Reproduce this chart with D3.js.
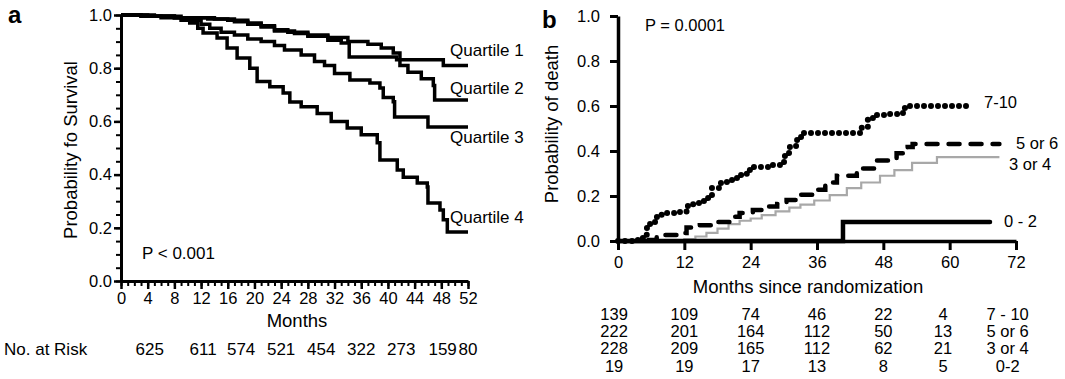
<!DOCTYPE html>
<html>
<head>
<meta charset="utf-8">
<script src="https://cdn.jsdelivr.net/npm/d3@7"></script>
<style>
  body { margin: 0; background: #fff; }
  svg { display: block; font-family: Arial, Helvetica, "Liberation Sans", sans-serif; }
  .axis path, .axis line { stroke: #000; }
  .axis text { font-size: 16.5px; fill: #000; font-family: Arial, Helvetica, "Liberation Sans", sans-serif; }
  .curve { fill: none; }
</style>
</head>
<body>
<svg id="chart" width="1065" height="379"></svg>
<script>
// ---- panel a: Kaplan-Meier survival by quartile, [month, probability] (step after)
const quartile1 = [[0,1],[3,0.996],[8,0.99],[13,0.985],[16,0.98],[19,0.97],[21,0.96],[23,0.945],[25,0.935],[28,0.92],[31,0.905],[33,0.895],[34.2,0.842],[41.3,0.832],[48.3,0.81],[52,0.81]];
const quartile2 = [[0,1],[4,0.995],[9,0.99],[14,0.985],[17,0.975],[19,0.965],[21,0.955],[23,0.94],[26,0.93],[28,0.925],[31,0.915],[34,0.9],[37,0.89],[39,0.876],[40.8,0.857],[41.8,0.81],[43,0.785],[45,0.76],[46.8,0.735],[47,0.68],[52,0.68]];
const quartile3 = [[0,1],[5,0.995],[8,0.99],[10,0.98],[12,0.965],[13.3,0.95],[15,0.935],[17,0.925],[19,0.91],[21,0.9],[23,0.885],[24.5,0.868],[27,0.85],[29,0.825],[30.5,0.81],[32,0.78],[34.3,0.756],[37.3,0.744],[38.8,0.726],[39.3,0.69],[40.8,0.674],[41,0.617],[46,0.579],[52,0.579]];
const quartile4 = [[0,1],[3,0.995],[6,0.99],[9,0.98],[10.3,0.97],[11.5,0.95],[12.3,0.932],[14.4,0.914],[15.9,0.876],[17.4,0.838],[19.3,0.8],[20.4,0.75],[22.3,0.73],[24.3,0.707],[25.3,0.673],[27,0.655],[29.4,0.63],[31.5,0.6],[33.9,0.575],[36,0.55],[38.4,0.52],[38.8,0.455],[41.4,0.417],[42.3,0.39],[44.4,0.368],[45.9,0.353],[46,0.293],[47.8,0.267],[48.3,0.23],[48.9,0.184],[52,0.184]];
const quartileNames = ['Quartile 1', 'Quartile 2', 'Quartile 3', 'Quartile 4'];
const riskMonthsA = [4.3, 12.3, 18, 24, 30, 36, 42, 48.2, 52];
const riskCountsA = [625, 611, 574, 521, 454, 322, 273, 159, 80];

// ---- panel b: cumulative probability of death by score group
const death710 = [[0,0],[3.2,0],[3.6,0.01],[4.5,0.018],[5.2,0.058],[5.8,0.08],[6.7,0.107],[7.9,0.124],[11.2,0.129],[12.4,0.156],[13.6,0.169],[15.2,0.178],[16.3,0.204],[17,0.236],[18.4,0.258],[19.7,0.271],[20.8,0.28],[22,0.293],[23.3,0.316],[24.4,0.329],[28,0.338],[29.3,0.351],[30.2,0.391],[31.1,0.422],[32.4,0.462],[33.5,0.48],[43.2,0.48],[44.1,0.507],[45.2,0.547],[46.8,0.56],[49.2,0.564],[50.6,0.569],[51.9,0.596],[52.4,0.6],[63.7,0.6]];
const death56 = [[5.5,0.005],[7,0.027],[10.6,0.036],[12.4,0.06],[14.8,0.07],[17.2,0.085],[20.2,0.108],[22,0.124],[24.4,0.138],[26.9,0.153],[28.8,0.165],[30.5,0.182],[32.9,0.206],[35.3,0.228],[37.5,0.26],[39.6,0.29],[43.2,0.322],[46.8,0.358],[50.4,0.39],[52.4,0.418],[53.3,0.431],[69,0.431]];
const death34 = [[10.5,0],[12,0.008],[14,0.02],[16,0.036],[18,0.055],[20,0.075],[22,0.09],[24,0.1],[26,0.115],[28.5,0.132],[31,0.148],[33,0.162],[35.5,0.18],[38.3,0.204],[41.4,0.235],[44,0.26],[47.4,0.29],[50,0.315],[53.2,0.347],[57.7,0.373],[69,0.373]];
const death02 = [[0,0],[40.7,0.084],[67.3,0.084]];
const deathNames = ['7-10', '5 or 6', '3 or 4', '0 - 2'];
const riskMonthsB = [-0.7, 12, 24, 36, 48, 58.8];
const riskRowNames = ['7 - 10', '5 or 6', '3 or 4', '0-2'];
const riskCounts710 = [139, 109, 74, 46, 22, 4];
const riskCounts56 = [222, 201, 164, 112, 50, 13];
const riskCounts34 = [228, 209, 165, 112, 62, 21];
const riskCounts02 = [19, 19, 17, 13, 8, 5];

const svg = d3.select('#chart');
svg.append('rect').attr('width', 1065).attr('height', 379).attr('fill', '#fff');

// ================= panel a =================
const xA = d3.scaleLinear().domain([0, 52]).range([121, 468]);
const yA = d3.scaleLinear().domain([0, 1]).range([281, 15]);

const gA = svg.append('g');

// minor ticks first
gA.append('g')
    .attr('class', 'axis')
    .attr('transform', `translate(${xA(0)},0)`)
    .call(d3.axisLeft(yA).tickValues(d3.range(0, 1.001, 0.05)).tickSize(5).tickSizeOuter(0).tickFormat(''))
    .call(g => g.select('.domain').remove())
    .call(g => g.selectAll('line').attr('stroke-width', 2));
gA.append('g')
    .attr('class', 'axis')
    .attr('transform', `translate(0,${yA(0)})`)
    .call(d3.axisBottom(xA).tickValues(d3.range(0, 53, 1)).tickSize(5).tickSizeOuter(0).tickFormat(''))
    .call(g => g.select('.domain').remove())
    .call(g => g.selectAll('line').attr('stroke-width', 2));

gA.append('g')
    .attr('class', 'axis')
    .attr('transform', `translate(${xA(0)},0)`)
    .call(d3.axisLeft(yA).tickValues(d3.range(0, 1.001, 0.2)).tickSize(7).tickSizeOuter(0).tickPadding(2).tickFormat(d3.format('.1f')))
    .call(g => g.select('.domain').attr('stroke-width', 3))
    .call(g => g.selectAll('line').attr('stroke-width', 2.5));
gA.append('g')
    .attr('class', 'axis')
    .attr('transform', `translate(0,${yA(0)})`)
    .call(d3.axisBottom(xA).tickValues(d3.range(0, 53, 4)).tickSize(8).tickSizeOuter(0).tickPadding(3))
    .call(g => g.select('.domain').attr('stroke-width', 3))
    .call(g => g.selectAll('line').attr('stroke-width', 2.5));

const lineA = d3.line()
    .x(d => xA(d[0]))
    .y(d => yA(d[1]))
    .curve(d3.curveStepAfter);

[quartile1, quartile2, quartile3, quartile4].forEach(series => {
    gA.append('path')
        .datum(series)
        .attr('class', 'curve')
        .attr('stroke', '#000')
        .attr('stroke-width', 3.5)
        .attr('d', lineA);
});

// curve labels
const quartileBaselines = [56, 94, 143, 223];
quartileNames.forEach((name, i) => {
    gA.append('text')
        .attr('x', 450)
        .attr('y', quartileBaselines[i])
        .attr('font-size', 17)
        .text(name);
});

gA.append('text').attr('x', 8).attr('y', 23)
    .attr('font-size', 24).attr('font-weight', 'bold').text('a');

gA.append('text')
    .attr('transform', 'translate(77,150)rotate(-90)')
    .attr('text-anchor', 'middle')
    .attr('font-size', 18.5)
    .text('Probability fo Survival');

gA.append('text').attr('x', 142).attr('y', 259)
    .attr('font-size', 17).text('P < 0.001');

gA.append('text').attr('x', 297).attr('y', 327)
    .attr('text-anchor', 'middle').attr('font-size', 18.5).text('Months');

// number at risk
gA.append('text').attr('x', 4).attr('y', 355)
    .attr('font-size', 17).text('No. at Risk');
gA.selectAll('text.riskA')
    .data(riskCountsA)
    .join('text')
    .attr('class', 'riskA')
    .attr('x', (d, i) => xA(riskMonthsA[i]))
    .attr('y', 355)
    .attr('text-anchor', 'middle')
    .attr('font-size', 17)
    .text(d => d);

// ================= panel b =================
const xB = d3.scaleLinear().domain([0, 72]).range([618, 1016]);
const yB = d3.scaleLinear().domain([0, 1]).range([241, 16]);

const gB = svg.append('g');

gB.append('g')
    .attr('class', 'axis')
    .attr('transform', `translate(${xB(0)},0)`)
    .call(d3.axisLeft(yB).tickValues(d3.range(0, 1.001, 0.2)).tickSize(8).tickSizeOuter(0).tickPadding(10).tickFormat(d3.format('.1f')))
    .call(g => g.select('.domain').attr('stroke-width', 3.5))
    .call(g => g.selectAll('line').attr('stroke-width', 3));
gB.append('g')
    .attr('class', 'axis')
    .attr('transform', `translate(0,${yB(0)})`)
    .call(d3.axisBottom(xB).tickValues(d3.range(0, 73, 12)).tickSize(9).tickSizeOuter(0).tickPadding(6))
    .call(g => g.select('.domain').attr('stroke-width', 3.5))
    .call(g => g.selectAll('line').attr('stroke-width', 3));

const lineB = d3.line()
    .x(d => xB(d[0]))
    .y(d => yB(d[1]))
    .curve(d3.curveStepAfter);

// 3 or 4: thin grey
gB.append('path').datum(death34)
    .attr('class', 'curve')
    .attr('stroke', '#a8a8a8')
    .attr('stroke-width', 2.2)
    .attr('d', lineB);

// 5 or 6: heavy dashes
gB.append('path').datum(death56)
    .attr('class', 'curve')
    .attr('stroke', '#000')
    .attr('stroke-width', 4.5)
    .attr('stroke-linecap', 'round')
    .attr('stroke-dasharray', '11 11')
    .attr('d', lineB);

// 7-10: round dots
gB.append('path').datum(death710)
    .attr('class', 'curve')
    .attr('stroke', '#000')
    .attr('stroke-width', 6)
    .attr('stroke-linecap', 'round')
    .attr('stroke-dasharray', '0 7')
    .attr('d', lineB);

// 0-2: solid
gB.append('path').datum(death02)
    .attr('class', 'curve')
    .attr('stroke', '#000')
    .attr('stroke-width', 4.5)
    .attr('stroke-linecap', 'round')
    .attr('d', lineB);

const deathLabelPos = [[984, 108], [1016, 149], [1009, 170], [1004, 227]];
deathNames.forEach((name, i) => {
    gB.append('text')
        .attr('x', deathLabelPos[i][0])
        .attr('y', deathLabelPos[i][1])
        .attr('font-size', 16.5)
        .text(name);
});

gB.append('text').attr('x', 542).attr('y', 28)
    .attr('font-size', 24).attr('font-weight', 'bold').text('b');

gB.append('text')
    .attr('transform', 'translate(558,124)rotate(-90)')
    .attr('text-anchor', 'middle')
    .attr('font-size', 18.5)
    .text('Probability of death');

gB.append('text').attr('x', 645).attr('y', 31)
    .attr('font-size', 16.5).text('P = 0.0001');

gB.append('text').attr('x', 808).attr('y', 293)
    .attr('text-anchor', 'middle').attr('font-size', 18.5).text('Months since randomization');

// number at risk table
const riskRowsB = [riskCounts710, riskCounts56, riskCounts34, riskCounts02];
const riskBaselines = [320, 337, 354, 372];
riskRowsB.forEach((row, r) => {
    gB.selectAll(`text.riskB${r}`)
        .data(row)
        .join('text')
        .attr('class', `riskB${r}`)
        .attr('x', (d, i) => xB(riskMonthsB[i]))
        .attr('y', riskBaselines[r])
        .attr('text-anchor', 'middle')
        .attr('font-size', 16.5)
        .text(d => d);
    gB.append('text')
        .attr('x', xB(70.5))
        .attr('y', riskBaselines[r])
        .attr('text-anchor', 'middle')
        .attr('font-size', 16.5)
        .text(riskRowNames[r]);
});
</script>
</body>
</html>
